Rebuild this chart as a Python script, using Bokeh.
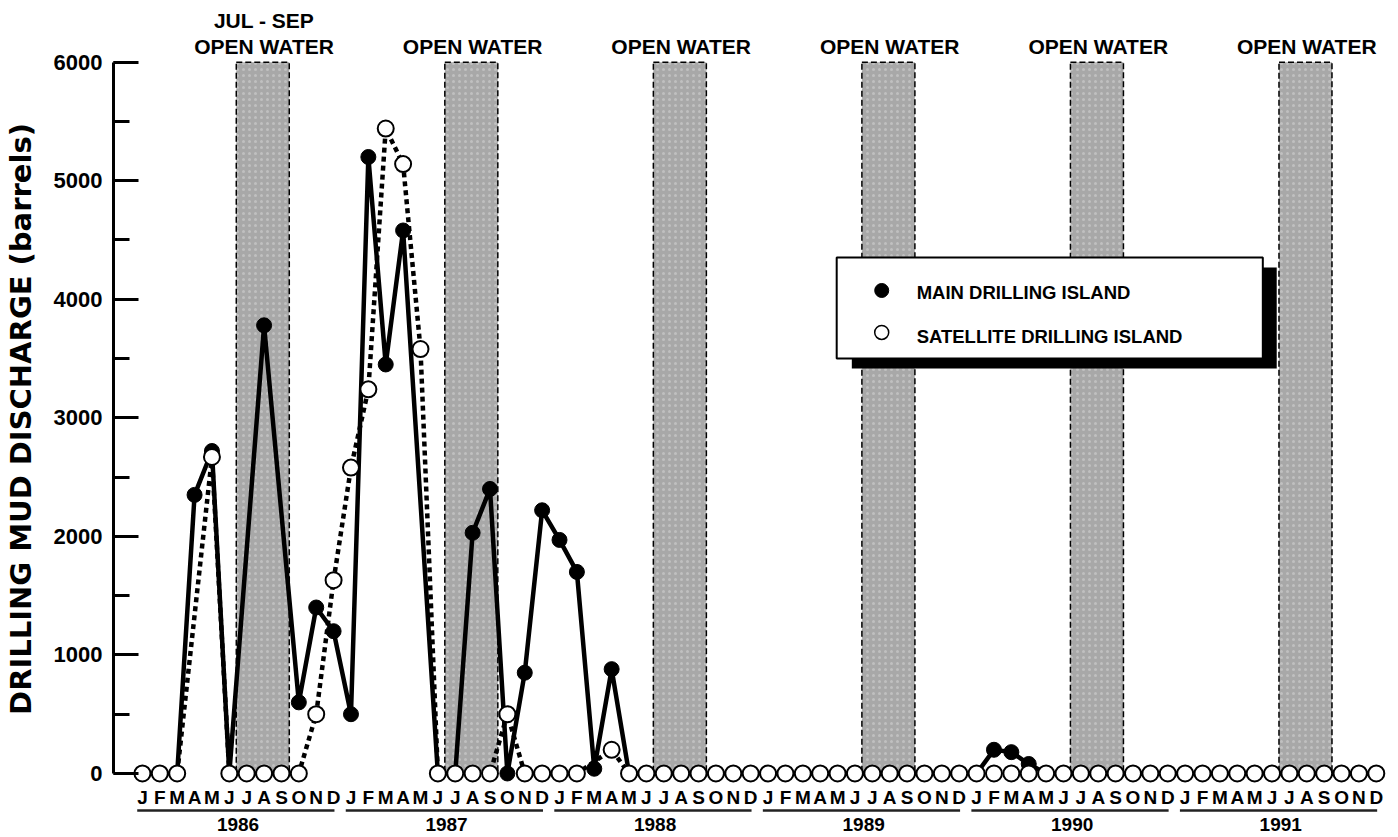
from bokeh.plotting import figure
from bokeh.models import SingleIntervalTicker
from bokeh.core.properties import value
from bokeh.embed import file_html
from bokeh.resources import INLINE

# ---------------- data ----------------
years = [1986, 1987, 1988, 1989, 1990, 1991]
month_letters = ["J", "F", "M", "A", "M", "J", "J", "A", "S", "O", "N", "D"]
open_water_first_month = 6   # JUL (0-based within year)
open_water_last_month = 8    # SEP

# Monthly drilling mud discharge (barrels); None = no value plotted
main_discharge = [
    # 1986
    0, 0, 0, 2350, 2720, 0, None, 3780, None, 600, 1400, 1200,
    # 1987
    500, 5200, 3450, 4580, None, 0, 0, 2030, 2400, 0, 850, 2220,
    # 1988
    1970, 1700, 40, 880, 0, 0, 0, 0, 0, 0, 0, 0,
    # 1989
    0, 0, 0, 0, 0, 0, 0, 0, 0, 0, 0, 0,
    # 1990
    0, 200, 180, 80, 0, 0, 0, 0, 0, 0, 0, 0,
    # 1991
    0, 0, 0, 0, 0, 0, 0, 0, 0, 0, 0, 0,
]
satellite_discharge = [
    # 1986
    0, 0, 0, None, 2670, 0, 0, 0, 0, 0, 500, 1630,
    # 1987
    2580, 3240, 5440, 5140, 3580, 0, 0, 0, 0, 500, 0, 0,
    # 1988
    0, 0, None, 200, 0, 0, 0, 0, 0, 0, 0, 0,
    # 1989
    0, 0, 0, 0, 0, 0, 0, 0, 0, 0, 0, 0,
    # 1990
    0, 0, 0, 0, 0, 0, 0, 0, 0, 0, 0, 0,
    # 1991
    0, 0, 0, 0, 0, 0, 0, 0, 0, 0, 0, 0,
]
series_names = ["MAIN DRILLING ISLAND", "SATELLITE DRILLING ISLAND"]

# ---------------- figure ----------------
FONT = value("Liberation Sans")
n_months = 12 * len(years)

p = figure(width=1398, height=837, x_range=(-1.665, 71.99), y_range=(-540, 6520),
           x_axis_type=None, output_backend="svg", toolbar_location=None,
           min_border_left=110, min_border_right=5, min_border_top=0, min_border_bottom=0)
p.outline_line_color = None
p.ygrid.grid_line_color = None
p.background_fill_color = "white"

ax = p.yaxis[0]
ax.ticker = SingleIntervalTicker(interval=1000, num_minor_ticks=2)
ax.bounds = (0, 6000)
ax.axis_line_width = 3
ax.major_tick_in = 25
ax.major_tick_out = 0
ax.minor_tick_in = 16
ax.minor_tick_out = 0
ax.major_tick_line_width = 3
ax.minor_tick_line_width = 3
ax.major_label_text_font = "Liberation Sans"
ax.major_label_text_font_style = "bold"
ax.major_label_text_font_size = "22px"
ax.major_label_text_color = "black"
ax.major_label_standoff = 11
ax.axis_label = "DRILLING MUD DISCHARGE (barrels)"
ax.axis_label_text_font = "DejaVu Sans"
ax.axis_label_text_font_style = "bold"
ax.axis_label_text_font_size = "29px"
ax.axis_label_text_color = "black"
ax.axis_label_standoff = 13

# open water shading
ow_left = [12 * k + open_water_first_month - 0.6 for k in range(len(years))]
ow_right = [12 * k + open_water_last_month + 0.45 for k in range(len(years))]
p.quad(left=ow_left, right=ow_right, bottom=0, top=6000,
       fill_color="#a8a8a8", line_color="black", line_width=1.5, line_dash="6 3",
       hatch_pattern="dot", hatch_color="#d8d8d8", hatch_alpha=0.5, hatch_scale=6)

# top labels
ow_center = [12 * k + 7 for k in range(len(years))]
p.text(x=ow_center, y=[6132] * len(years), text=["OPEN WATER"] * len(years),
       text_font=FONT, text_font_style="bold", text_font_size="21px",
       text_align="center", text_baseline="middle", text_color="black")
p.text(x=[ow_center[0]], y=[6352], text=["JUL - SEP"],
       text_font=FONT, text_font_style="bold", text_font_size="21px",
       text_align="center", text_baseline="middle", text_color="black")

# series
main_x = [i for i, v in enumerate(main_discharge) if v is not None]
main_y = [v for v in main_discharge if v is not None]
sat_x = [i for i, v in enumerate(satellite_discharge) if v is not None]
sat_y = [v for v in satellite_discharge if v is not None]

p.line(main_x, main_y, line_width=4.5, line_color="black", line_join="round")
p.line(sat_x, sat_y, line_width=4.5, line_color="black", line_dash="5 4", line_join="round")
p.scatter(main_x, main_y, size=15, fill_color="black", line_color="black")
p.scatter(sat_x, sat_y, size=16, fill_color="white", line_color="black", line_width=2)

# month letters, year underlines and year labels
mx = list(range(n_months))
p.text(x=mx, y=[-202] * n_months, text=month_letters * len(years),
       text_font=FONT, text_font_style="bold", text_font_size="19px",
       text_align="center", text_baseline="middle", text_color="black")
p.segment(x0=[12 * k - 0.3 for k in range(len(years))], y0=-312,
          x1=[12 * k + 11.05 for k in range(len(years))], y1=-312,
          line_color="#222222", line_width=2.5)
p.text(x=[12 * k + 5.5 for k in range(len(years))], y=[-430] * len(years),
       text=[str(y) for y in years],
       text_font=FONT, text_font_style="bold", text_font_size="19px",
       text_align="center", text_baseline="middle", text_color="black")

# legend box with drop shadow
p.quad(left=[40.82], right=[65.27], top=[4268], bottom=[3416],
       fill_color="black", line_color=None)
p.quad(left=[39.95], right=[64.47], top=[4352], bottom=[3500],
       fill_color="white", line_color="black", line_width=2)
p.scatter([42.54], [4074], size=14, fill_color="black", line_color="black")
p.scatter([42.54], [3720], size=14, fill_color="white", line_color="black", line_width=1.5)
p.text(x=[44.55, 44.55], y=[4057, 3686], text=series_names,
       text_font=FONT, text_font_style="bold", text_font_size="18.5px",
       text_align="left", text_baseline="middle", text_color="black")

open("out.html", "w").write(file_html(p, INLINE))
